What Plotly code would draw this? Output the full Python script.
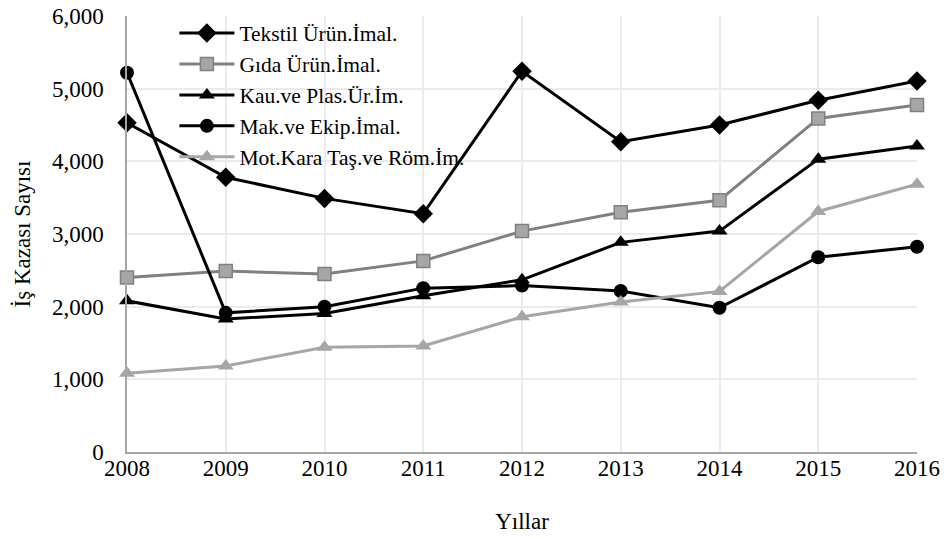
import plotly.graph_objects as go

years = [2008, 2009, 2010, 2011, 2012, 2013, 2014, 2015, 2016]
tekstil = [4530, 3780, 3490, 3280, 5240, 4270, 4500, 4840, 5105]
gida = [2400, 2490, 2450, 2630, 3040, 3300, 3465, 4590, 4775]
kau = [2080, 1830, 1905, 2150, 2370, 2885, 3040, 4030, 4210]
mak = [5220, 1915, 2000, 2255, 2290, 2215, 1985, 2680, 2825]
mot = [1085, 1185, 1440, 1460, 1860, 2065, 2210, 3310, 3685]

names = ["Tekstil Ürün.İmal.", "Gıda Ürün.İmal.", "Kau.ve Plas.Ür.İm.",
         "Mak.ve Ekip.İmal.", "Mot.Kara Taş.ve Röm.İm."]
y_ticks = [0, 1000, 2000, 3000, 4000, 5000, 6000]

FONT = "Liberation Serif, Times New Roman, serif"

styles = [
    dict(line=dict(color="#000000", width=3), marker=dict(symbol="diamond", size=15, color="#000000")),
    dict(line=dict(color="#808080", width=3), marker=dict(symbol="square", size=13, color="#a6a6a6", line=dict(color="#808080", width=1.5))),
    dict(line=dict(color="#000000", width=3), marker=dict(symbol="triangle-up", size=14, color="#000000")),
    dict(line=dict(color="#000000", width=3), marker=dict(symbol="circle", size=14, color="#000000")),
    dict(line=dict(color="#a6a6a6", width=3), marker=dict(symbol="triangle-up", size=14, color="#a6a6a6")),
]

fig = go.Figure()
for name, vals, st in zip(names, [tekstil, gida, kau, mak, mot], styles):
    fig.add_trace(go.Scatter(x=years, y=vals, name=name, mode="lines+markers",
                             cliponaxis=False, **st))

fig.update_layout(
    width=947, height=539,
    margin=dict(l=127, r=30, t=16, b=87),
    paper_bgcolor="white", plot_bgcolor="white",
    font=dict(family=FONT, size=23, color="#000000"),
    showlegend=True,
    legend=dict(x=0.06, y=1.008, xanchor="left", yanchor="top",
                bgcolor="rgba(0,0,0,0)", font=dict(family=FONT, size=21.5),
                itemwidth=55, tracegroupgap=0),
    xaxis=dict(range=[2008, 2016], tickmode="array", tickvals=years,
               ticktext=[str(y) for y in years], automargin=False,
               showgrid=True, gridcolor="#ebebeb", gridwidth=1.5,
               showline=True, linecolor="#a6a6a6", linewidth=1.5,
               zeroline=False, ticks="", ticklabelstandoff=-5,
               title=dict(text="Yıllar", standoff=33, font=dict(size=23))),
    yaxis=dict(range=[0, 6000], tickmode="array", tickvals=y_ticks,
               ticktext=[f"{v:,}" for v in y_ticks], automargin=False,
               showgrid=True, gridcolor="#ebebeb", gridwidth=1.5,
               showline=True, linecolor="#a6a6a6", linewidth=1.5,
               zeroline=False, ticks="", ticklabelstandoff=17,
               title=dict(text="İş Kazası Sayısı", standoff=15, font=dict(size=23))),
)

fig.write_html("out.html", config={"displayModeBar": False},
               post_script="document.body.style.margin='0';document.body.style.overflow='hidden';")
